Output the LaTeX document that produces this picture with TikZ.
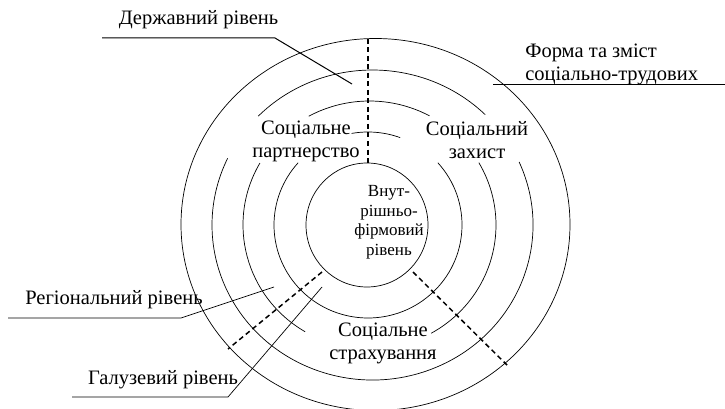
\documentclass[tikz,border=0pt]{standalone}
\usepackage{fontspec}
\setmainfont{Liberation Serif}
\begin{document}
\begin{tikzpicture}[x=1pt,y=-1pt,line width=0.7pt,
  lbl/.style={inner sep=0pt,font=\fontsize{20.5}{23}\selectfont},
  inlbl/.style={inner sep=0pt,align=center,font=\fontsize{17}{19.5}\selectfont},
  leader/.style={line width=0.7pt},
  boundary/.style={line width=1.5pt,dash pattern=on 5pt off 3.5pt}]
  \useasboundingbox (0,0) rectangle (725,409);
  % ring centres
  \coordinate (c1) at (367,225);
  \coordinate (c2) at (368,225);
  \coordinate (c3) at (369.5,225);
  \coordinate (c4) at (372.5,225);
  \coordinate (c5) at (375.5,224.5);
  % rings
  \draw (c1) ellipse [x radius=61,y radius=62];
  \draw (c2) ++(-100:94 and 93) arc[start angle=-100,end angle=-70,x radius=94,y radius=93];
  \draw (c2) ++(-42:94 and 93) arc[start angle=-42,end angle=222,x radius=94,y radius=93];
  \draw (c3) ++(-118.7:126.5 and 124) arc[start angle=-118.7,end angle=-61.7,x radius=126.5,y radius=124];
  \draw (c3) ++(-30.2:126.5 and 124) arc[start angle=-30.2,end angle=60.8,x radius=126.5,y radius=124];
  \draw (c3) ++(120.6:126.5 and 124) arc[start angle=120.6,end angle=210,x radius=126.5,y radius=124];
  \draw (c4) ++(-135.4:160.5 and 155) arc[start angle=-135.4,end angle=-45.4,x radius=160.5,y radius=155];
  \draw (c4) ++(-24:160.5 and 155) arc[start angle=-24,end angle=205.5,x radius=160.5,y radius=155];
  \draw (c5) ellipse [x radius=194.5,y radius=186];
  % boundaries between the forms
  \coordinate (b1-out) at (368,39);
  \coordinate (b1-in) at (368,163);
  \coordinate (b2-in) at (322,272);
  \coordinate (b2-out) at (228,349);
  \coordinate (b3-in) at (413,272);
  \coordinate (b3-out) at (507,365);
  \draw[boundary] (b1-out) -- (b1-in);
  \draw[boundary] (b2-in) -- (b2-out);
  \draw[boundary] (b3-in) -- (b3-out);
  % texts in the rings
  \node[lbl,align=center] (partner) at (306,141) {Соціальне\\партнерство};
  \node[lbl,align=center] (zakhyst) at (477,140) {Соціальний\\захист};
  \node[lbl,align=center] (strakh) at (383,343) {Соціальне\\страхування};
  \node[inlbl] (firm) at (389,222) {Внут-\\рішньо-\\фірмовий\\рівень};
  % levels
  \node[lbl] (derzh) at (198.5,20) {Державний рівень};
  \node[lbl,align=left,anchor=west] (forma) at (525,64) {Форма та зміст\\соціально-трудових};
  \node[lbl] (region) at (114,300) {Регіональний рівень};
  \node[lbl] (haluz) at (163,380) {Галузевий рівень};
  \coordinate (derzh-l) at (102,38);
  \coordinate (derzh-r) at (275,38);
  \coordinate (derzh-end) at (352,84);
  \coordinate (forma-end) at (493,84);
  \coordinate (forma-r) at (725,84);
  \coordinate (region-l) at (8,318);
  \coordinate (region-r) at (181,318);
  \coordinate (region-end) at (274,287);
  \coordinate (haluz-l) at (72,397);
  \coordinate (haluz-r) at (228,397);
  \coordinate (haluz-end) at (322,287);
  \draw[leader,line width=1pt] (derzh-l) -- (derzh-r) -- (derzh-end);
  \draw[leader] (forma-end) -- (forma-r);
  \draw[leader] (region-l) -- (region-r) -- (region-end);
  \draw[leader] (haluz-l) -- (haluz-r) -- (haluz-end);
\end{tikzpicture}
\end{document}
